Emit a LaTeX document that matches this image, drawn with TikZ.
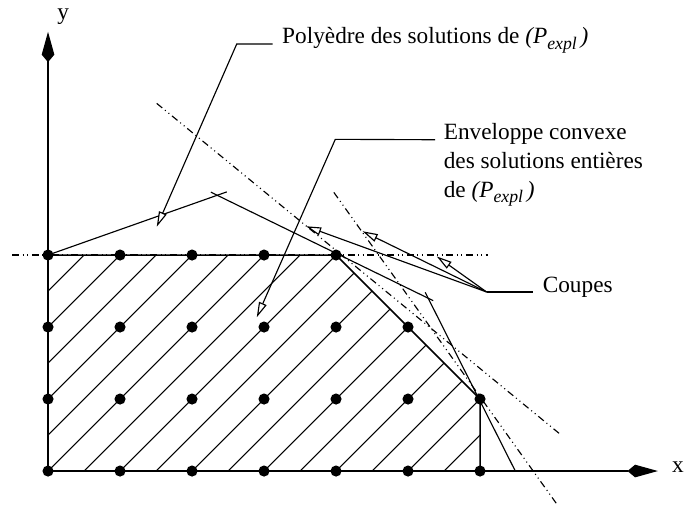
\documentclass[tikz,border=0pt]{standalone}
\usepackage{fontspec}
\setmainfont{Liberation Serif}
\usetikzlibrary{arrows.meta,calc}
\tikzset{
  plaxis/.style={-{Kite[length=12pt,width=5pt,inset=3pt]},line width=0.5pt},
  plhull/.style={line width=0.6pt},
  plhatch/.style={line width=0.4pt},
  plpoly/.style={line width=0.45pt},
  plcut/.style={line width=0.45pt,dash pattern=on 2.8pt off 1.4pt on 0.4pt off 1.4pt on 0.4pt off 1.4pt},
  plpoint/.style={circle,fill=black,inner sep=0pt,minimum size=4.4pt},
  plleader/.style={line width=0.45pt},
  plarrow/.style={plleader,-{Triangle[length=6pt,width=3.2pt,fill=white]}},
  pllabel/.style={font=\fontsize{9.2}{11.4}\selectfont,align=left,inner sep=0pt}
}
\newcommand{\pexpl}{\textit{(P\raisebox{-0.5ex}{\fontsize{7}{8}\selectfont expl}\,)}}

\begin{document}
\begin{tikzpicture}
  \useasboundingbox (-0.667,-0.458) rectangle (8.847,6.542);
  \begin{scope}
    \clip (0,0) -- (6,0) -- (6,1) -- (4,3) -- (0,3) -- cycle;
    \foreach \c in {-2.5,-2,...,5.5}
      \draw[plhatch] (\c,0) -- ++(4,4);
  \end{scope}
  \draw[plcut] (-0.5,3) -- (6.11,3);
  \draw[plcut] (1.51,5.106) -- (7.11,0.514);
  \draw[plcut] (3.97,3.87) -- (7.06,-0.45);
  \draw[plhull] (0,0) -- (6,0) -- (6,1) -- (4,3) -- (0,3) -- cycle;
  \draw[plaxis] (0,0) -- (0,6.1);
  \draw[plaxis] (0,0) -- (8.47,0);
  \node[pllabel] (ylab) at (0.21,6.31) {y};
  \node[pllabel] (xlab) at (8.75,0.05) {x};
  \foreach \y/\xmax in {0/6,1/6,2/5,3/4}
    \foreach \x in {0,...,\xmax}
      \node[plpoint] (p\x\y) at (\x,\y) {};

  \coordinate (v0) at (0,3);
  \coordinate (v1) at (2.35,3.83);
  \coordinate (v2) at (5.28,2.40);
  \coordinate (v3) at (6.49,0);
  \draw[plpoly,shorten >=-4pt] (v0) -- (v1);
  \draw[plpoly,shorten <=-2.8pt,shorten >=-2.2pt] (v1) -- (v2);
  \draw[plpoly,shorten <=-2.6pt] (v2) -- (v3);

  \node[pllabel,anchor=base west] (lbpoly) at (3.246,5.931) {Polyèdre des solutions de \pexpl};
  \node[pllabel,anchor=base west] (lbenv) at (5.49,3.80) {Enveloppe convexe\\des solutions entières\\de \pexpl};
  \node[pllabel,anchor=base west] (lbcoupes) at (6.865,2.486) {Coupes};

  \coordinate (kpoly) at (2.621,5.931);
  \coordinate (tpoly) at (1.51,3.393);
  \coordinate (kenv) at (3.99,4.607);
  \coordinate (tenv) at (2.899,2.135);
  \coordinate (kcoupes) at (6.093,2.486);
  \coordinate (ta) at (3.583,3.40);
  \coordinate (tb) at (4.37,3.33);
  \coordinate (tc) at (5.40,2.98);

  \draw[plarrow] ([xshift=-1.25mm]lbpoly.base west) -- (kpoly) -- (tpoly);
  \draw[plarrow] ([xshift=-1.15mm,yshift=22.8pt]lbenv.base west) -- (kenv) -- (tenv);
  \draw[plleader] ([xshift=-1.3mm]lbcoupes.base west) -- (kcoupes);
  \foreach \t in {ta,tb,tc}
    \draw[plarrow] (kcoupes) -- (\t);
\end{tikzpicture}
\end{document}
